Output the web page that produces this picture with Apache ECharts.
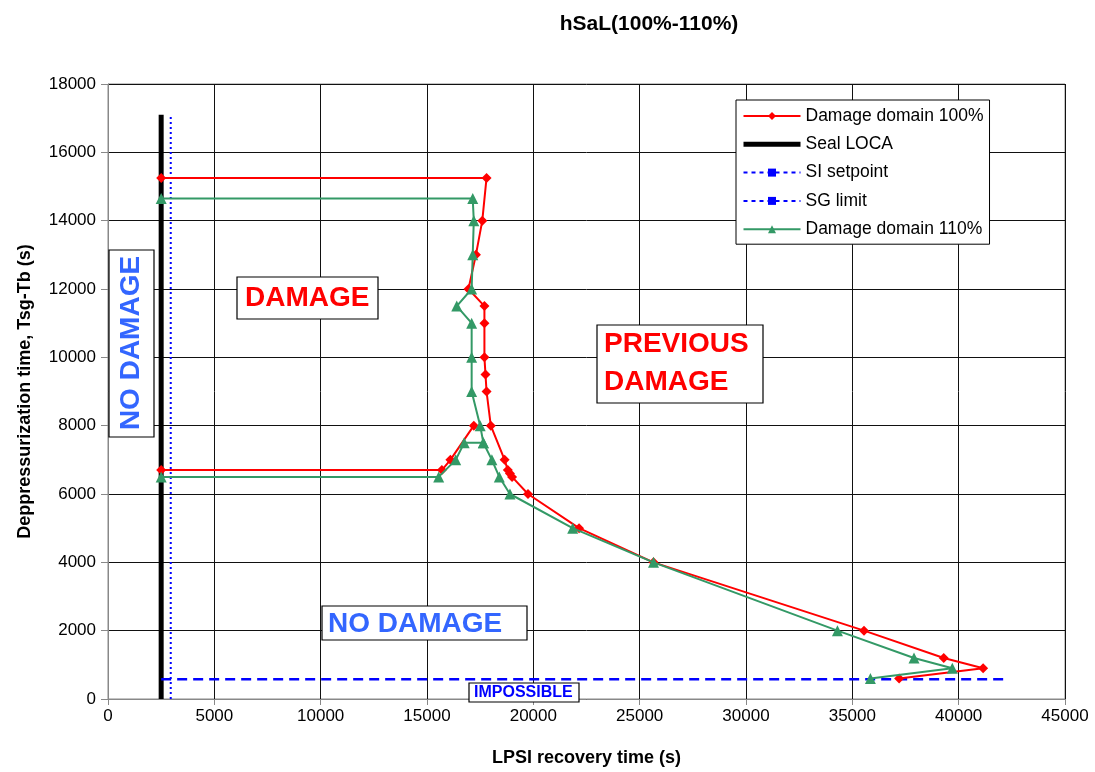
<!DOCTYPE html>
<html>
<head>
<meta charset="utf-8">
<script src="https://cdn.jsdelivr.net/npm/echarts@6/dist/echarts.min.js"></script>
<style>
html,body{margin:0;padding:0;background:#fff;}
#c{width:1095px;height:772px;}
</style>
</head>
<body>
<div id="c"></div>
<script>
// ---- DATA ----
const TITLE = 'hSaL(100%-110%)';
const X_NAME = 'LPSI recovery time (s)';
const Y_NAME = 'Deppressurization time, Tsg-Tb (s)';
const SERIES_NAMES = ['Damage domain 100%', 'Seal LOCA', 'SI setpoint', 'SG limit', 'Damage domain 110%'];

// Damage domain 100% : main branch (top -> tail)
const dmg100Main = [
  [2500,15250],[17800,15250],[17600,14000],[17300,13000],[16950,12000],[17700,11500],
  [17700,11000],[17700,10000],[17750,9500],[17800,9000],[18000,8000],[18650,7000],
  [18800,6700],[18900,6600],[19000,6500],[19750,6000],[22150,5000],[25650,4000],
  [35550,2000],[39300,1200],[41150,900],[37200,600]
];
// Damage domain 100% : lower-left branch
const dmg100Low = [[2500,6700],[15700,6700],[16100,7000],[17200,8000]];

// Damage domain 110% : main branch
const dmg110Main = [
  [2500,14650],[17150,14650],[17200,14000],[17150,13000],[17100,12000],[16400,11500],
  [17100,11000],[17100,10000],[17100,9000],[17500,8000],[17650,7500],[18050,7000],
  [18400,6500],[18900,6000],[21850,5000],[25650,4000],[34300,2000],[37900,1200],
  [39700,900],[35850,600]
];
// Damage domain 110% : lower-left branch
const dmg110Low = [[2500,6500],[15550,6500],[16350,7000],[16750,7500],[17650,7500]];

const sealLoca = [[2500,0],[2500,17100]];
const siSetpoint = [[2950,0],[2950,17100]];
const sgLimit = [[2500,580],[42300,580]];

const X_TICKS = {min:0, max:45000, interval:5000};
const Y_TICKS = {min:0, max:18000, interval:2000};

// ---- CHART ----
const chart = echarts.init(document.getElementById('c'), null, {renderer:'canvas'});
const FONT = 'Liberation Sans, Arial, sans-serif';
const RED = '#ff0000', GREEN = '#339966', BLUE = '#0000ff', LBLUE = '#3366ff';

function box(x, y, w, h) {
  return {type:'rect', shape:{x:x, y:y, width:w, height:h}, style:{fill:'#fff', stroke:'#000', lineWidth:1.2}, z:50};
}
function txt(x, y, text, color, size, extra) {
  return Object.assign({type:'text', x:x, y:y, z:51,
    style:{text:text, fill:color, font:'bold ' + size + 'px ' + FONT, textAlign:'left', textVerticalAlign:'middle'}}, extra || {});
}

const option = {
  backgroundColor:'#fff',
  animation:false,
  title:{text:TITLE, left:644, top:9, textAlign:'center',
    textStyle:{fontFamily:FONT, fontWeight:'bold', fontSize:21, color:'#000'}},
  grid:{left:108, right:30, top:84, bottom:71, show:true, borderColor:'#888', borderWidth:1, backgroundColor:'#fff'},
  xAxis:{type:'value', min:X_TICKS.min, max:X_TICKS.max, interval:X_TICKS.interval,
    name:X_NAME, nameLocation:'middle', nameGap:50,
    nameTextStyle:{fontFamily:FONT, fontWeight:'bold', fontSize:18, color:'#000'},
    axisLine:{show:true, onZero:false, lineStyle:{color:'#888', width:1}},
    axisTick:{show:true, inside:false, length:6, lineStyle:{color:'#888'}},
    axisLabel:{fontFamily:FONT, fontSize:17, color:'#000', margin:9, formatter:v => String(v)},
    splitLine:{show:true, lineStyle:{color:'#111', width:1}}},
  yAxis:{type:'value', min:Y_TICKS.min, max:Y_TICKS.max, interval:Y_TICKS.interval,
    name:Y_NAME, nameLocation:'middle', nameGap:74,
    nameTextStyle:{fontFamily:FONT, fontWeight:'bold', fontSize:18, color:'#000'},
    axisLine:{show:true, onZero:false, lineStyle:{color:'#888', width:1}},
    axisTick:{show:true, inside:false, length:7, lineStyle:{color:'#888'}},
    axisLabel:{fontFamily:FONT, fontSize:17, color:'#000', margin:12, formatter:v => String(v)},
    splitLine:{show:true, lineStyle:{color:'#111', width:1}}},
  legend:{
    data:[
      {name:SERIES_NAMES[0]},
      {name:SERIES_NAMES[1], itemStyle:{color:'rgba(0,0,0,0)', borderWidth:0}, lineStyle:{width:5}},
      {name:SERIES_NAMES[2], lineStyle:{type:[4,4], width:2}},
      {name:SERIES_NAMES[3], lineStyle:{type:[4,4], width:2}},
      {name:SERIES_NAMES[4]}
    ],
    orient:'vertical', left:736, top:100,
    backgroundColor:'#fff', borderColor:'#000', borderWidth:1,
    padding:[7,6,6,5], itemGap:10.3, itemWidth:57, itemHeight:10,
    textStyle:{fontFamily:FONT, fontSize:17.5, color:'#000'}
  },
  series:[
    {name:SERIES_NAMES[1], type:'line', data:sealLoca, symbol:'rect', showSymbol:false, z:2,
      lineStyle:{color:'#000', width:5}, itemStyle:{color:'#000'}},
    {name:SERIES_NAMES[2], type:'line', data:siSetpoint, symbol:'rect', showSymbol:false, z:2,
      lineStyle:{color:BLUE, width:2, type:[2,3]}, itemStyle:{color:BLUE}},
    {name:SERIES_NAMES[3], type:'line', data:sgLimit, symbol:'rect', showSymbol:false, z:2,
      lineStyle:{color:BLUE, width:2.5, type:[10,6]}, itemStyle:{color:BLUE}},
    {name:SERIES_NAMES[0], type:'line', data:dmg100Main, symbol:'diamond', symbolSize:10, z:3,
      lineStyle:{color:RED, width:2}, itemStyle:{color:RED}},
    {name:SERIES_NAMES[0], type:'line', data:dmg100Low, symbol:'diamond', symbolSize:10, z:3,
      lineStyle:{color:RED, width:2}, itemStyle:{color:RED}},
    {name:SERIES_NAMES[4], type:'line', data:dmg110Main, symbol:'triangle', symbolSize:11, z:4,
      lineStyle:{color:GREEN, width:2}, itemStyle:{color:GREEN}},
    {name:SERIES_NAMES[4], type:'line', data:dmg110Low, symbol:'triangle', symbolSize:11, z:4,
      lineStyle:{color:GREEN, width:2}, itemStyle:{color:GREEN}}
  ],
  graphic:[
    box(237,277,141,42), txt(245,298,'DAMAGE',RED,28),
    box(597,325,166,78), txt(604,344,'PREVIOUS',RED,28), txt(604,382,'DAMAGE',RED,28),
    box(322,606,205,34), txt(328,624,'NO DAMAGE',LBLUE,28),
    box(469,683,110,19), txt(474,693,'IMPOSSIBLE',BLUE,16),
    box(109,250,45,187),
    {type:'text', x:131, y:343, rotation:Math.PI/2, z:51,
      style:{text:'NO DAMAGE', fill:LBLUE, font:'bold 28px ' + FONT, textAlign:'center', textVerticalAlign:'middle'}}
  ]
};
chart.setOption(option);
</script>
</body>
</html>
